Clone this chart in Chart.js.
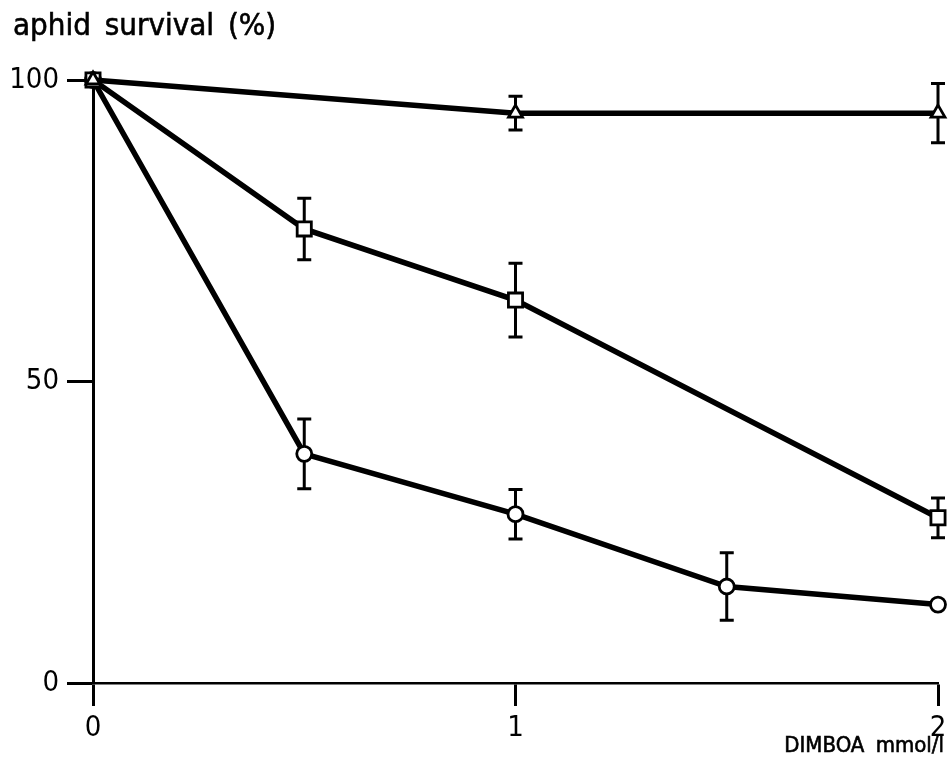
<!DOCTYPE html>
<html>
<head>
<meta charset="utf-8">
<script src="https://cdn.jsdelivr.net/npm/chart.js@4/dist/chart.umd.min.js"></script>
<style>
  body { margin: 0; background: #fff; }
  #wrap { position: relative; width: 952px; height: 775px; }
  .lbl { position: absolute; color: #000; white-space: nowrap; font-family: "DejaVu Sans Condensed", "DejaVu Sans", sans-serif; -webkit-text-stroke: 0.6px #000; }
  #ytitle { left: 13px; top: 6px; font-size: 31px; word-spacing: 5px; }
  #xtitle { right: 8px; top: 732px; font-size: 22px; word-spacing: 5px; }
</style>
</head>
<body>
<div id="wrap">
  <canvas id="myChart" width="952" height="775"></canvas>
  <div class="lbl" id="ytitle">aphid survival (%)</div>
  <div class="lbl" id="xtitle">DIMBOA mmol/l</div>
</div>
<script>
// doses (mmol/l) and survival (%)
let circleX = [0, 0.5, 1, 1.5, 2];
let circleY = [100, 38, 28, 16, 13];
let circleErr = [null, 5.8, 4.1, 5.6, null];

let squareX = [0, 0.5, 1, 2];
let squareY = [100, 75.3, 63.5, 27.4];
let squareErr = [null, 5.1, 6.1, 3.3];

let triX = [0, 1, 2];
let triY = [100, 94.5, 94.5];
let triErr = [null, 2.8, 4.9];

let xTicks = [0, 1, 2];
let yTicks = [0, 50, 100];

function pts(xs, ys) {
    return xs.map((x, i) => ({ x: x, y: ys[i] }));
}

const errorBars = {
    id: 'errorBars',
    beforeDatasetsDraw(chart) {
        const ctx = chart.ctx;
        const yScale = chart.scales.y;
        chart.data.datasets.forEach((ds, d) => {
            const meta = chart.getDatasetMeta(d);
            ds.err.forEach((e, i) => {
                if (e == null) return;
                const p = meta.data[i];
                const v = ds.data[i].y;
                const top = yScale.getPixelForValue(v + e);
                const bot = yScale.getPixelForValue(v - e);
                ctx.save();
                ctx.strokeStyle = '#000';
                ctx.lineWidth = 3;
                ctx.beginPath();
                ctx.moveTo(p.x, top); ctx.lineTo(p.x, bot);
                ctx.moveTo(p.x - 7, top); ctx.lineTo(p.x + 7, top);
                ctx.moveTo(p.x - 7, bot); ctx.lineTo(p.x + 7, bot);
                ctx.stroke();
                ctx.restore();
            });
        });
    }
};

function series(xs, ys, errs, style, r) {
    return {
        data: pts(xs, ys),
        err: errs,
        showLine: true,
        clip: false,
        borderColor: '#000',
        borderWidth: 5.5,
        pointStyle: style,
        pointRadius: r,
        pointBorderWidth: 2.8,
        pointBackgroundColor: '#fff',
        pointBorderColor: '#000',
        tension: 0
    };
}

const tickFont = { family: 'DejaVu Sans Condensed, DejaVu Sans, sans-serif', size: 29 };

const ctx = document.getElementById('myChart').getContext('2d');
const myChart = new Chart(ctx, {
    type: 'scatter',
    data: {
        // first dataset is drawn on top, so the triangle sits over the shared point at 0
        datasets: [
            series(triX, triY, triErr, 'triangle', 8),
            series(squareX, squareY, squareErr, 'rect', 10),
            series(circleX, circleY, circleErr, 'circle', 7.5)
        ]
    },
    options: {
        responsive: false,
        animation: false,
        layout: { padding: { top: 80, right: 14, left: 0, bottom: 0 } },
        plugins: { legend: { display: false }, tooltip: { enabled: false } },
        scales: {
            x: {
                type: 'linear', min: 0, max: 2,
                afterBuildTicks: s => { s.ticks = xTicks.map(v => ({ value: v })); },
                afterFit: s => { s.height = 92; },
                border: { display: true, color: '#000', width: 2.5 },
                grid: { display: true, drawOnChartArea: false, drawTicks: true, tickLength: 23, tickWidth: 3, color: '#000' },
                ticks: { color: '#000', padding: 5, font: tickFont }
            },
            y: {
                type: 'linear', min: 0, max: 100,
                afterBuildTicks: s => { s.ticks = yTicks.map(v => ({ value: v })); },
                afterFit: s => { s.width = 93; },
                border: { display: true, color: '#000', width: 3 },
                grid: { display: true, drawOnChartArea: false, drawTicks: true, tickLength: 26, tickWidth: 3, color: '#000' },
                ticks: { color: '#000', padding: 8, font: tickFont }
            }
        }
    },
    plugins: [errorBars]
});
</script>
</body>
</html>
